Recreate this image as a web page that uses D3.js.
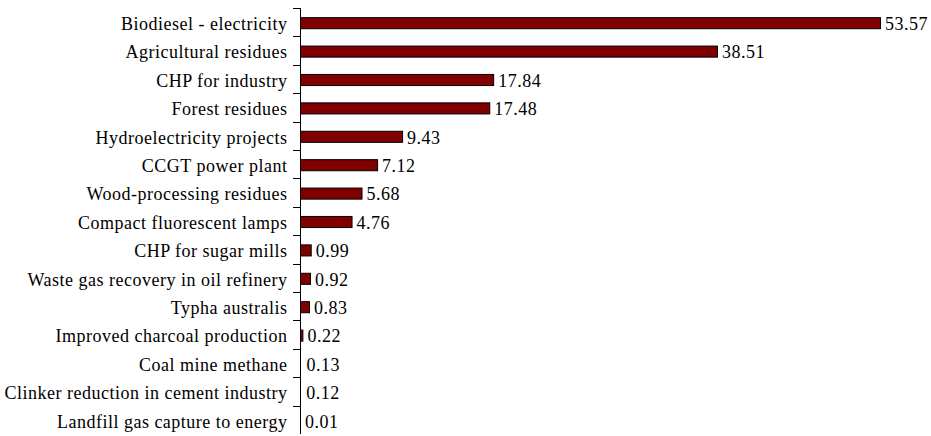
<!DOCTYPE html>
<html>
<head>
<meta charset="utf-8">
<script src="https://cdn.jsdelivr.net/npm/d3@7"></script>
<style>
  body { margin: 0; background: #fff; }
</style>
</head>
<body>
<div id="chart"></div>
<script>
var categories = [
  "Biodiesel - electricity",
  "Agricultural residues",
  "CHP for industry",
  "Forest residues",
  "Hydroelectricity projects",
  "CCGT power plant",
  "Wood-processing residues",
  "Compact fluorescent lamps",
  "CHP for sugar mills",
  "Waste gas recovery in oil refinery",
  "Typha australis",
  "Improved charcoal production",
  "Coal mine methane",
  "Clinker reduction in cement industry",
  "Landfill gas capture to energy"
]
var values = [53.57, 38.51, 17.84, 17.48, 9.43, 7.12, 5.68, 4.76, 0.99, 0.92, 0.83, 0.22, 0.13, 0.12, 0.01]
var valueLabels = ["53.57", "38.51", "17.84", "17.48", "9.43", "7.12", "5.68", "4.76", "0.99", "0.92", "0.83", "0.22", "0.13", "0.12", "0.01"]

var width = 931, height = 436
var marginLeft = 300, marginTop = 8, plotW = 580, plotH = 426
var serif = "'Liberation Serif', 'Times New Roman', serif"

var svg = d3.select("#chart")
  .append("svg")
    .attr("width", width)
    .attr("height", height)
    .attr("font-family", serif)

var x = d3.scaleLinear()
  .domain([0, 53.57])
  .range([marginLeft, marginLeft + plotW])

var y = d3.scaleBand()
  .domain(categories)
  .range([marginTop + 1, marginTop + plotH + 1])
  .paddingInner(0.61)
  .paddingOuter(0.305)

var data = categories.map(function (c, i) {
  return { name: c, value: values[i], label: valueLabels[i] }
})

// bars (the tiniest ones are not visible in the original)
svg.selectAll(".bar")
  .data(data.filter(d => d.value >= 0.2))
  .enter()
  .append("rect")
    .attr("class", "bar")
    .attr("x", x(0) + 0.5)
    .attr("y", d => y(d.name))
    .attr("width", d => Math.max(1, x(d.value) - x(0)))
    .attr("height", y.bandwidth())
    .style("fill", "#800000")
    .style("stroke", "#000")
    .style("stroke-width", 1)

// value labels
svg.selectAll(".val")
  .data(data)
  .enter()
  .append("text")
    .attr("class", "val")
    .attr("x", d => x(d.value) + 5)
    .attr("y", d => y(d.name) + y.bandwidth() / 2)
    .attr("dy", "0.38em")
    .style("font-family", serif)
    .style("font-size", "18px")
    .style("letter-spacing", "0.5px")
    .style("fill", "#000")
    .text(d => d.label)

// category axis, ticks on band edges
var edges = d3.range(categories.length + 1).map(i => marginTop + i * plotH / categories.length)
var axis = svg.append("g")
axis.append("line")
  .attr("x1", marginLeft + 0.5).attr("x2", marginLeft + 0.5)
  .attr("y1", marginTop).attr("y2", marginTop + plotH)
  .style("stroke", "#000")
axis.selectAll(".tick")
  .data(edges.slice(0, -1))
  .enter()
  .append("line")
    .attr("x1", marginLeft - 7).attr("x2", marginLeft + 0.5)
    .attr("y1", d => Math.round(d) + 0.5)
    .attr("y2", d => Math.round(d) + 0.5)
    .style("stroke", "#000")

svg.selectAll(".cat")
  .data(data)
  .enter()
  .append("text")
    .attr("class", "cat")
    .attr("x", marginLeft - 12.5)
    .attr("y", d => y(d.name) + y.bandwidth() / 2)
    .attr("dy", "0.38em")
    .attr("text-anchor", "end")
    .style("font-family", serif)
    .style("font-size", "18px")
    .style("letter-spacing", "0.5px")
    .style("fill", "#000")
    .text(d => d.name)
</script>
</body>
</html>
